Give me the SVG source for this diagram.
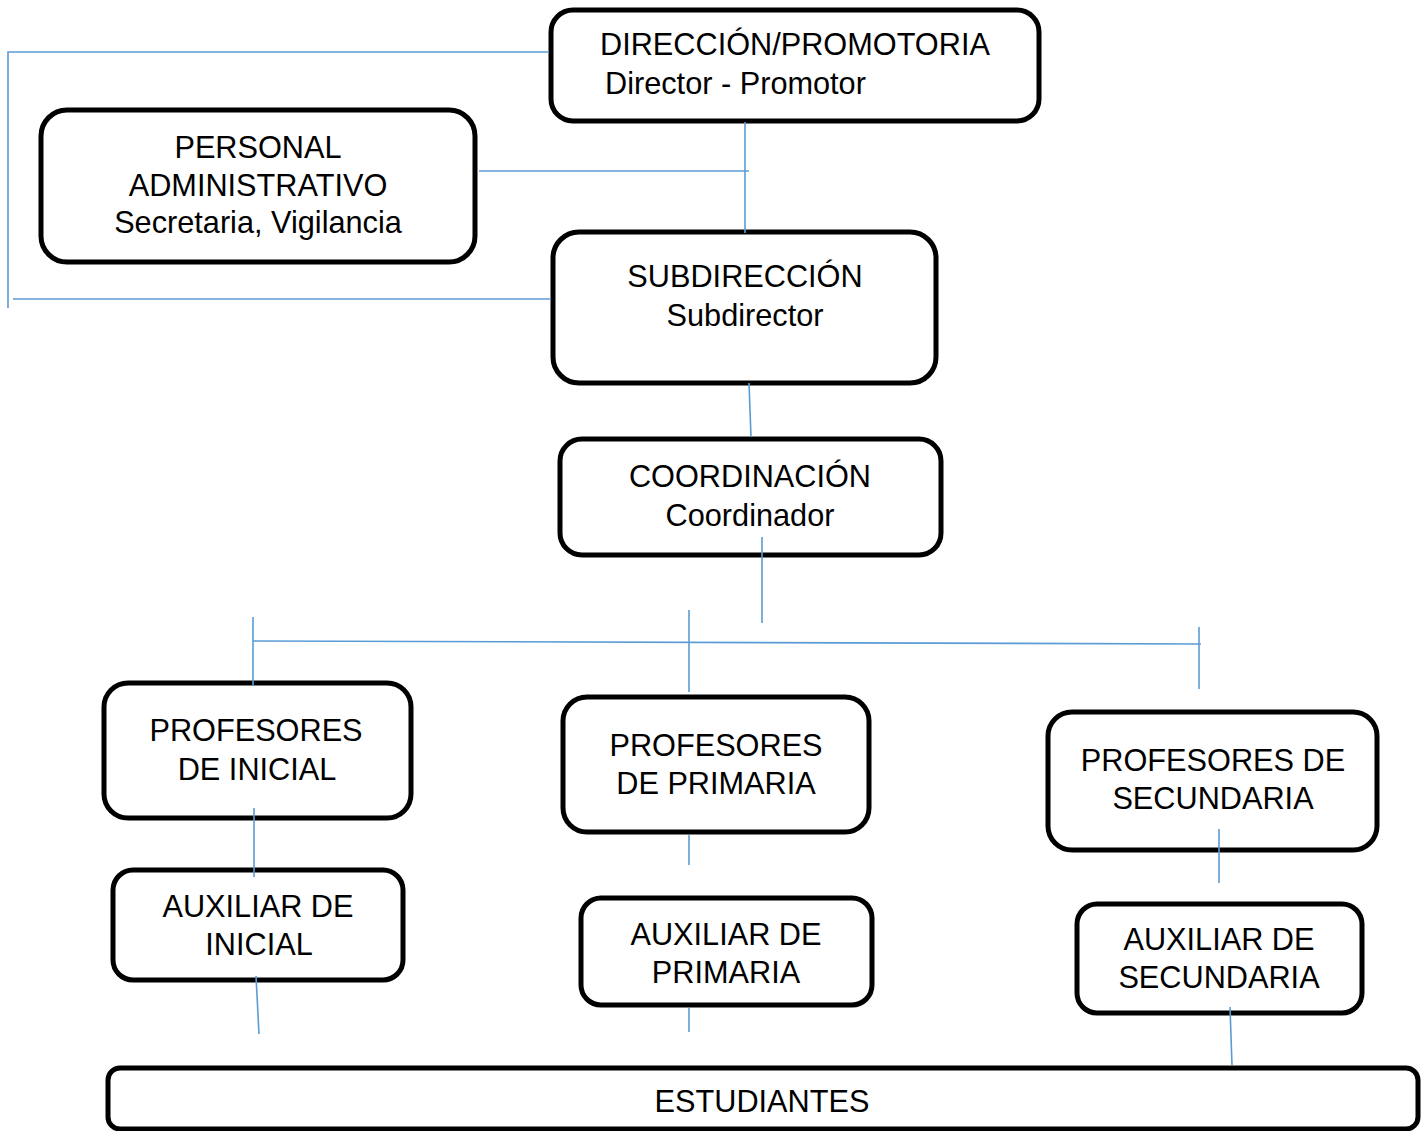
<svg xmlns="http://www.w3.org/2000/svg" width="1427" height="1131" viewBox="0 0 1427 1131">
<style>
.box{fill:#fff;stroke:#000;stroke-width:5}
.t{font-family:"Liberation Sans",Arial,sans-serif;font-size:30.7px;fill:#000;text-anchor:middle}
.s{text-anchor:start}
.c line,.c polyline{stroke:#5B9BD5;stroke-width:1.6;fill:none}
</style>
<rect width="1427" height="1131" fill="#fff"/>
<g id="direccion">
<rect class="box" x="551" y="10" width="488" height="111" rx="22"/>
<text class="t s" x="600" y="55">DIRECCIÓN/PROMOTORIA</text>
<text class="t s" x="605" y="94">Director - Promotor</text>
</g>
<g id="personal">
<rect class="box" x="41" y="110" width="434" height="152" rx="26"/>
<text class="t" x="258" y="158">PERSONAL</text>
<text class="t" x="258" y="196">ADMINISTRATIVO</text>
<text class="t" x="258" y="233">Secretaria, Vigilancia</text>
</g>
<g id="subdireccion">
<rect class="box" x="553" y="232" width="383" height="151" rx="26"/>
<text class="t" x="745" y="287">SUBDIRECCIÓN</text>
<text class="t" x="745" y="326">Subdirector</text>
</g>
<g id="coordinacion">
<rect class="box" x="560" y="439" width="381" height="116" rx="22"/>
<text class="t" x="750" y="487">COORDINACIÓN</text>
<text class="t" x="750" y="526">Coordinador</text>
</g>
<g id="prof-inicial">
<rect class="box" x="104" y="683" width="307" height="135" rx="24"/>
<text class="t" x="256" y="741">PROFESORES</text>
<text class="t" x="257" y="780">DE INICIAL</text>
</g>
<g id="prof-primaria">
<rect class="box" x="563" y="697" width="306" height="135" rx="24"/>
<text class="t" x="716" y="756">PROFESORES</text>
<text class="t" x="716" y="794">DE PRIMARIA</text>
</g>
<g id="prof-secundaria">
<rect class="box" x="1048" y="712" width="329" height="138" rx="24"/>
<text class="t" x="1213" y="771">PROFESORES DE</text>
<text class="t" x="1213" y="809">SECUNDARIA</text>
</g>
<g id="aux-inicial">
<rect class="box" x="113" y="870" width="290" height="110" rx="20"/>
<text class="t" x="258" y="917">AUXILIAR DE</text>
<text class="t" x="259" y="955">INICIAL</text>
</g>
<g id="aux-primaria">
<rect class="box" x="581" y="898" width="291" height="107" rx="20"/>
<text class="t" x="726" y="945">AUXILIAR DE</text>
<text class="t" x="726" y="983">PRIMARIA</text>
</g>
<g id="aux-secundaria">
<rect class="box" x="1077" y="904" width="285" height="109" rx="20"/>
<text class="t" x="1219" y="950">AUXILIAR DE</text>
<text class="t" x="1219" y="988">SECUNDARIA</text>
</g>
<g id="estudiantes">
<rect class="box" x="108" y="1068" width="1310" height="61" rx="12"/>
<text class="t" x="762" y="1112">ESTUDIANTES</text>
</g>
<g class="c" id="connectors">
<polyline points="549,52 8,52 8,308"/>
<line x1="13" y1="299" x2="551" y2="299"/>
<line x1="479" y1="171" x2="749" y2="171"/>
<line x1="745" y1="122" x2="745" y2="233"/>
<line x1="749" y1="383" x2="751" y2="437"/>
<line x1="762" y1="537" x2="762" y2="623"/>
<line x1="253" y1="641" x2="1201" y2="644"/>
<line x1="253" y1="617" x2="253" y2="686"/>
<line x1="689" y1="610" x2="689" y2="692"/>
<line x1="1199" y1="627" x2="1199" y2="689"/>
<line x1="254" y1="808" x2="254" y2="877"/>
<line x1="256" y1="976" x2="259" y2="1034"/>
<line x1="689" y1="835" x2="689" y2="865"/>
<line x1="689" y1="1008" x2="689" y2="1032"/>
<line x1="1219" y1="829" x2="1219" y2="883"/>
<line x1="1230" y1="1007" x2="1232" y2="1065"/>
</g>
</svg>
